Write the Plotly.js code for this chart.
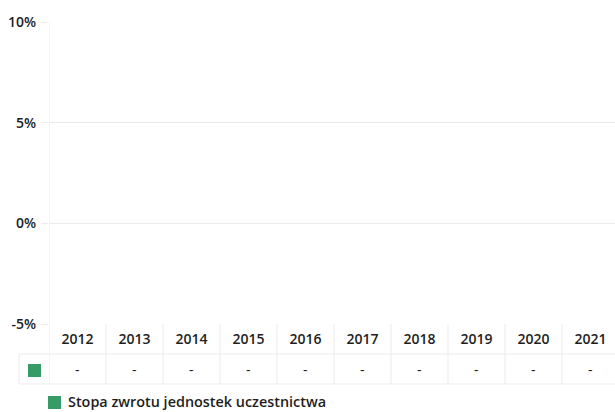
<!DOCTYPE html>
<html>
<head>
<meta charset="utf-8">
<script src="https://cdn.plot.ly/plotly-3.0.1.min.js"></script>
<style>
html,body{margin:0;padding:0;overflow:hidden;background:#fff;}
#chart{width:620px;height:412px;}
</style>
</head>
<body>
<div id="chart"></div>
<script>
// ---- data ----
var years = ['2012','2013','2014','2015','2016','2017','2018','2019','2020','2021'];
var returns = [null,null,null,null,null,null,null,null,null,null]; // no data published ("-")
var seriesName = 'Stopa zwrotu jednostek uczestnictwa';
var yTicks = [-5, 0, 5, 10];

// ---- styles ----
var green = '#379b68';
var grid = '#ebebeb';
var txt = '#1e1e1e';
var fontFam = '"Open Sans", "Noto Sans", sans-serif';

// pixel helpers (plot area: left 49, width 570, top 22, height 302)
var PL = 49, PW = 570, PT = 22, PH = 302;
function px(X){ return (X - PL) / PW; }
function py(Y){ return (PT + PH - Y) / PH; }

var shapes = [];
// table horizontal lines
[354, 384].forEach(function(Y){
  shapes.push({type:'line', xref:'paper', yref:'paper', x0:px(19), x1:1, y0:py(Y), y1:py(Y),
    line:{color:grid, width:1}});
});
// left border of the swatch cell
shapes.push({type:'line', xref:'paper', yref:'paper', x0:px(19), x1:px(19), y0:py(354), y1:py(384),
  line:{color:grid, width:1}});
// column separators
for (var i = 0; i <= years.length; i++) {
  shapes.push({type:'line', xref:'x', yref:'paper', x0:i-0.5, x1:i-0.5,
    y0:(i===0 ? 1 : 0), y1:py(384), line:{color:grid, width:1}});
}
// swatch in the table row
shapes.push({type:'rect', xref:'paper', yref:'paper', x0:px(28), x1:px(41), y0:py(364), y1:py(377),
  fillcolor:green, line:{width:0}});
// legend swatch
shapes.push({type:'rect', xref:'paper', yref:'paper', x0:px(48), x1:px(61), y0:py(396), y1:py(409),
  fillcolor:green, line:{width:0}});

var annotations = years.map(function(y, k){
  var v = returns[k];
  return {xref:'x', yref:'paper', x:k, y:py(369), xanchor:'center', yanchor:'middle', showarrow:false,
    text: (v === null ? '-' : v.toFixed(2).replace('.', ',') + '%'),
    font:{family:fontFam, size:14, color:txt}};
});
// legend label
annotations.push({xref:'paper', yref:'paper', x:px(66), y:py(401), xanchor:'left', yanchor:'middle',
  showarrow:false, text:seriesName, font:{family:fontFam, size:14.4, color:txt, weight:600}});

var trace = {
  type:'bar', x:years, y:returns, name:seriesName,
  marker:{color:green}, showlegend:false, hoverinfo:'skip'
};

var layout = {
  width:620, height:412,
  margin:{l:49, r:1, t:22, b:88},
  paper_bgcolor:'#fff', plot_bgcolor:'#fff',
  font:{family:fontFam, size:14, color:txt},
  showlegend:false,
  xaxis:{type:'category', range:[-0.5, years.length-0.5], showgrid:false, zeroline:false,
    showline:false, ticks:'', tickfont:{family:fontFam, size:14, color:txt, weight:600},
    ticklabelstandoff:5, fixedrange:true},
  yaxis:{range:[-5, 10], tickvals:yTicks, ticktext:yTicks.map(function(t){return t+'%';}),
    showgrid:true, gridcolor:grid, gridwidth:1, zeroline:true, zerolinecolor:grid, zerolinewidth:1,
    showline:false, ticks:'outside', ticklen:7, tickcolor:grid, tickfont:{family:fontFam, size:14, color:txt, weight:600},
    ticklabelstandoff:2, fixedrange:true},
  shapes:shapes,
  annotations:annotations,
  bargap:0.3
};

Plotly.newPlot('chart', [trace], layout, {displayModeBar:false, staticPlot:true});
</script>
</body>
</html>
